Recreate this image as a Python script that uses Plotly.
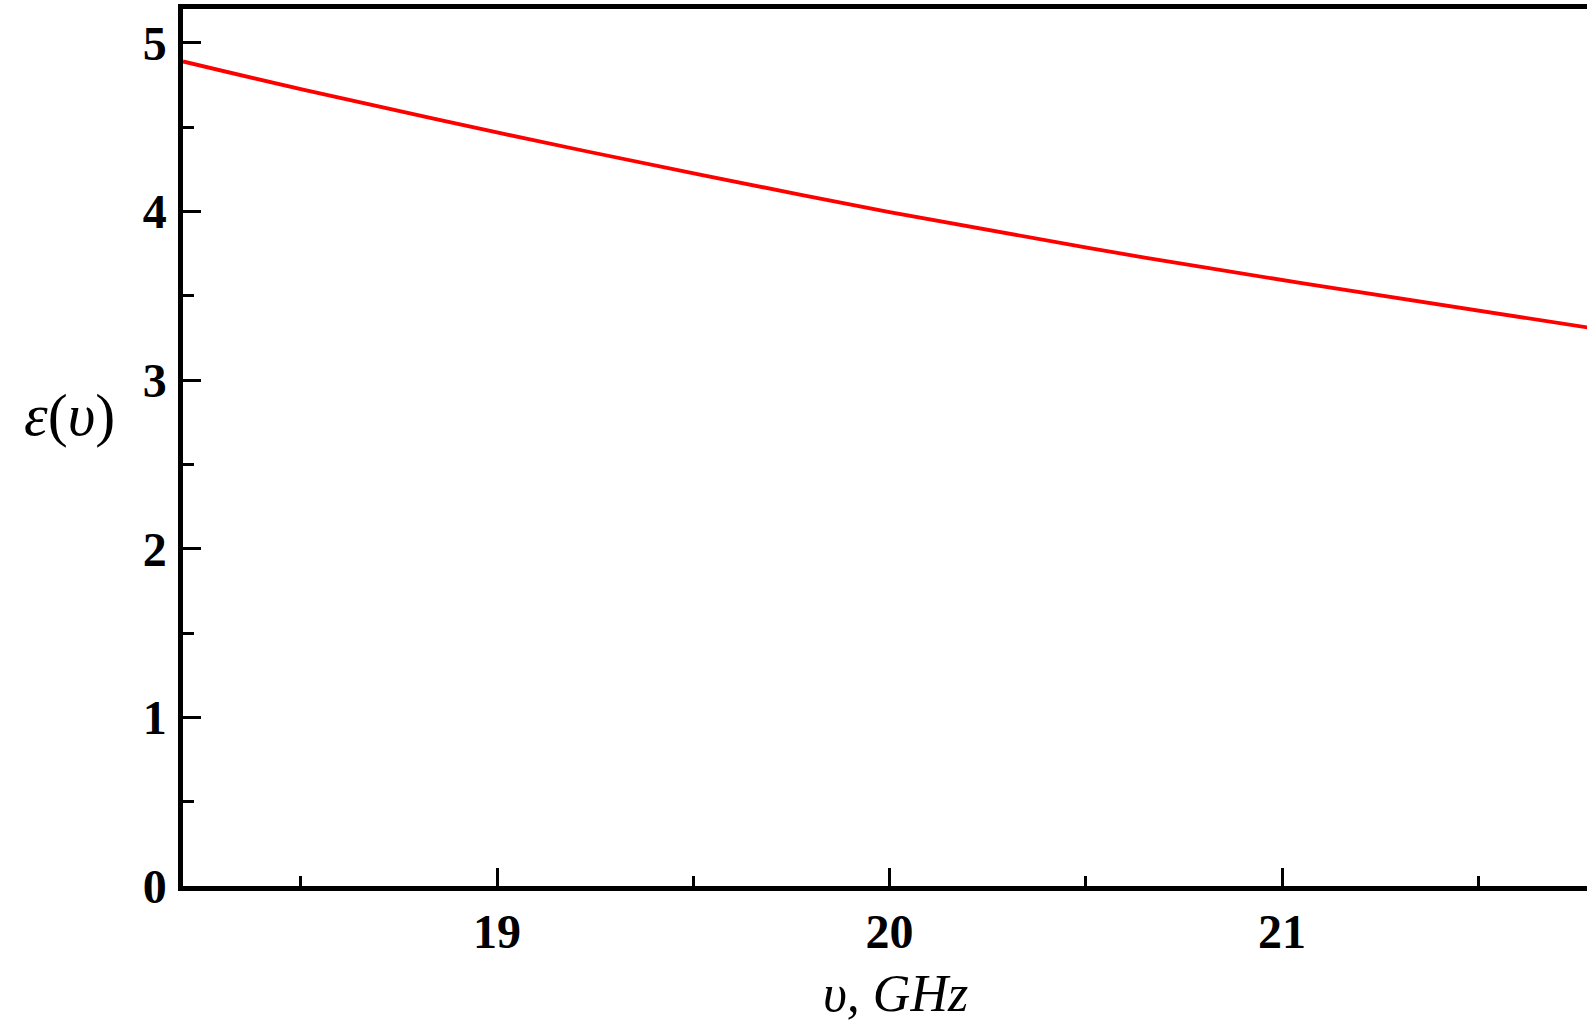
import plotly.graph_objects as go

# Values
nu_ghz = [18.2, 18.5, 19.0, 19.52, 20.0, 20.51, 21.05, 21.78]
epsilon = [4.889, 4.725, 4.468, 4.217, 3.996, 3.782, 3.574, 3.311]

x_ticks = [19, 20, 21]
y_ticks = [0, 1, 2, 3, 4, 5]

serif = "Liberation Serif"

fig = go.Figure()
fig.add_trace(go.Scatter(
    x=nu_ghz, y=epsilon, mode="lines",
    line=dict(color="#ff0000", width=3.8, shape="spline"),
    showlegend=False, hoverinfo="skip",
))

axis_common = dict(
    showgrid=False, zeroline=False,
    showline=True, linecolor="black", linewidth=4.5,
    ticks="inside", ticklen=18, tickwidth=3, tickcolor="black",
    tickfont=dict(family=serif, size=48, color="black", weight="bold"),
)

fig.update_xaxes(
    range=[18.2, 21.777], tickvals=x_ticks, mirror=True,
    minor=dict(ticks="inside", dtick=0.5, tick0=18, ticklen=10, tickwidth=3, tickcolor="black"),
    **axis_common,
)
fig.update_yaxes(
    range=[0, 5.2], tickvals=y_ticks, mirror=False,
    ticklabelstandoff=2,
    minor=dict(ticks="inside", dtick=0.5, tick0=0, ticklen=11, tickwidth=3, tickcolor="black"),
    **axis_common,
)

fig.add_annotation(
    text="<i>υ, GHz</i>", xref="x", yref="paper", x=20.015, y=0,
    xanchor="center", yanchor="bottom", yshift=-138, showarrow=False,
    font=dict(family=serif, size=52, color="black"),
)
fig.add_annotation(
    text="<i>ε</i>(<i>υ</i>)", xref="paper", yref="paper", x=0, y=0.537,
    xanchor="right", yanchor="middle", xshift=-66, showarrow=False,
    font=dict(family=serif, size=60, color="black"),
)

fig.update_layout(
    width=1587, height=1026,
    margin=dict(l=183, r=0, t=9, b=140),
    plot_bgcolor="white", paper_bgcolor="white",
)

fig.write_html(
    "out.html",
    config={"displayModeBar": False},
    post_script="document.body.style.margin='0';document.body.style.overflow='hidden';",
)
